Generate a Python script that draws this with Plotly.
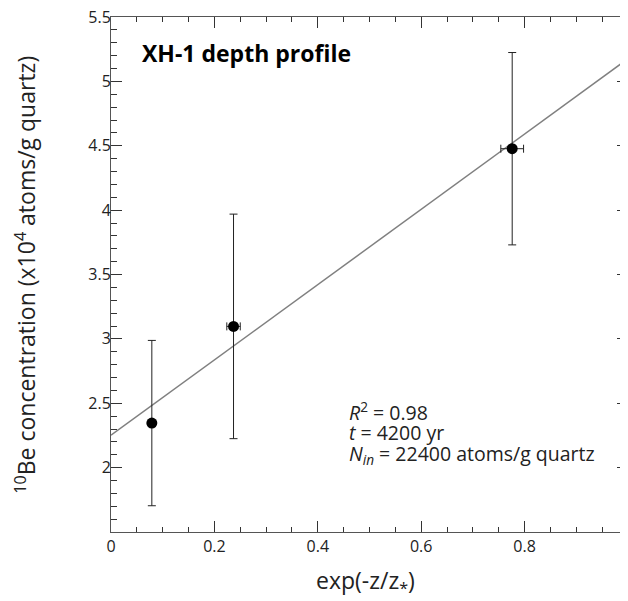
import plotly.graph_objects as go

# data
x_vals = [0.079, 0.237, 0.776]
y_vals = [2.346, 3.097, 4.477]
y_err = [0.642, 0.872, 0.747]
x_err = [0.0, 0.013, 0.022]
fit_x = [0.0, 1.0]
fit_y = [2.252, 5.176]
x_ticks = [0, 0.2, 0.4, 0.6, 0.8, 1.0]
x_ticklabels = ["0", "0.2", "0.4", "0.6", "0.8", "1"]
y_ticks = [2, 2.5, 3, 3.5, 4, 4.5, 5, 5.5]
y_ticklabels = ["2", "2.5", "3", "3.5", "4", "4.5", "5", "5.5"]
stats_lines = ["<i>R</i><sup>2</sup> = 0.98",
               "<i>t</i> = 4200 yr",
               "<i>N<sub>in</sub></i> = 22400 atoms/g quartz"]
stats_y = [2.437, 2.270, 2.103]

FONT = "Open Sans"

fig = go.Figure()
fig.add_trace(go.Scatter(x=fit_x, y=fit_y, mode="lines",
                         line=dict(color="#808080", width=1.5),
                         showlegend=False, hoverinfo="skip"))
fig.add_trace(go.Scatter(
    x=x_vals, y=y_vals, mode="markers",
    marker=dict(color="black", size=11),
    error_y=dict(type="data", array=y_err, visible=True, color="#222222", thickness=1, width=4),
    error_x=dict(type="data", array=x_err, visible=True, color="#222222", thickness=1, width=4),
    showlegend=False))

axis_common = dict(showline=True, linecolor="#555555", linewidth=1, mirror="allticks",
                   ticks="inside", ticklen=11, tickcolor="#333333", tickwidth=1,
                   showgrid=False, zeroline=False, automargin=False,
                   ticklabeloverflow="allow",
                   tickfont=dict(family=FONT, size=16, color="#222222"))

fig.update_xaxes(range=[0, 1], tickvals=x_ticks, ticktext=x_ticklabels,
                 minor=dict(dtick=0.05, ticks="inside", ticklen=5, tickcolor="#333333"),
                 **axis_common)
fig.update_yaxes(range=[1.5, 5.5], tickvals=y_ticks, ticktext=y_ticklabels,
                 minor=dict(dtick=0.1, tick0=1.5, ticks="inside", ticklen=6, tickcolor="#333333"),
                 ticklabelstandoff=-4,
                 **axis_common)

# axis titles as annotations
fig.add_annotation(x=0.492, y=-0.1346, xref="paper", yref="paper", xanchor="center", yanchor="bottom",
                   text="exp(-z/z<sub>*</sub>)", showarrow=False,
                   font=dict(family=FONT, size=23, color="#222222"))
fig.add_annotation(x=-0.166, y=0.5, xref="paper", yref="paper", xanchor="center", yanchor="middle",
                   textangle=-90, showarrow=False,
                   text="<sup>10</sup>Be concentration (x10<sup>4</sup> atoms/g quartz)",
                   font=dict(family=FONT, size=23, color="#222222"))

fig.add_annotation(x=0.057, y=5.22, xref="x", yref="y", xanchor="left", yanchor="middle",
                   text="<b>XH-1 depth profile</b>", showarrow=False,
                   font=dict(family=FONT, size=23, color="black"))
for line_text, ly in zip(stats_lines, stats_y):
    fig.add_annotation(x=0.456, y=ly, xref="x", yref="y", xanchor="left", yanchor="middle",
                       align="left", showarrow=False, text=line_text,
                       font=dict(family=FONT, size=19.5, color="#222222"))

# the page body has an 8px default margin, so the figure sits 8px in from the corner
fig.update_layout(width=620, height=593, plot_bgcolor="white", paper_bgcolor="white",
                  margin=dict(l=103, r=0, t=9, b=69))

fig.write_html("out.html")
